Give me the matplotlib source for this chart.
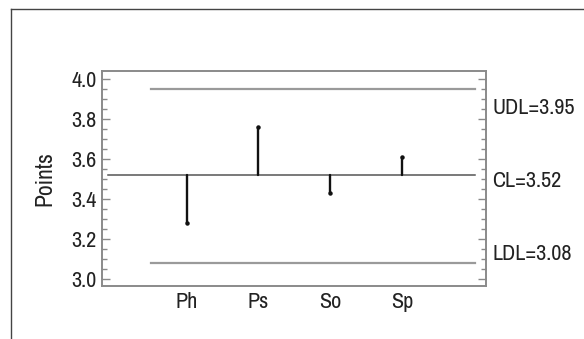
import matplotlib
matplotlib.use("Agg")
import matplotlib.pyplot as plt
from matplotlib.lines import Line2D
from matplotlib.ticker import MultipleLocator

groups = ["Ph", "Ps", "So", "Sp"]
means = [3.28, 3.76, 3.43, 3.61]
cl = 3.52
udl = 3.95
ldl = 3.08

plt.rcParams['font.family'] = ['Archivo Narrow', 'DejaVu Sans']
fs = 16

fig = plt.figure(figsize=(5.84, 3.39), dpi=100)
ax = fig.add_axes([0.1755, 0.155, 0.657, 0.636])

x = list(range(1, len(groups) + 1))

# decision limits and centre line
ax.plot([0.5, 5.02], [udl, udl], color='#9a9a9a', lw=1.6)
ax.plot([0.5, 5.02], [ldl, ldl], color='#9a9a9a', lw=1.6)
ax.plot([-0.09, 5.02], [cl, cl], color='#555555', lw=1.1)

# group means drawn from the centre line
for xi, m in zip(x, means):
    ax.plot([xi, xi], [cl, m], color='#111111', lw=1.7, solid_capstyle='round')
    ax.plot(xi, m, 'o', color='#111111', ms=2.2)

ax.set_xlim(-0.17, 5.17)
ax.set_ylim(2.964, 4.04)
ax.set_xticks(x)
ax.set_xticklabels(groups)
ax.yaxis.set_minor_locator(MultipleLocator(0.05))
ax.set_yticks([3.0, 3.2, 3.4, 3.6, 3.8, 4.0])
ax.set_yticklabels(["3.0", "3.2", "3.4", "3.6", "3.8", "4.0"])

ax.tick_params(axis='x', length=0, pad=4, labelsize=fs, colors='#222222')
ax.tick_params(axis='y', which='major', direction='in', length=6, width=1,
               left=True, right=True, color='#8a8a8a', pad=4, labelsize=fs,
               labelcolor='#222222')
ax.tick_params(axis='y', which='minor', direction='in', length=3.5, width=1,
               left=True, right=True, color='#8a8a8a')
for s in ax.spines.values():
    s.set_color('#8a8a8a')
    s.set_linewidth(1.4)

ax.set_ylabel('Points', fontsize=17, color='#222222', labelpad=12)

# limit labels on the right
ax.text(1.016, 3.855, 'UDL=3.95', transform=ax.get_yaxis_transform(),
        va='center', ha='left', fontsize=fs, color='#222222')
ax.text(1.016, 3.49, 'CL=3.52', transform=ax.get_yaxis_transform(),
        va='center', ha='left', fontsize=fs, color='#222222')
ax.text(1.016, 3.126, 'LDL=3.08', transform=ax.get_yaxis_transform(),
        va='center', ha='left', fontsize=fs, color='#222222')

# outer frame, only left and top edges visible
fig.add_artist(Line2D([11 / 584, 11 / 584], [0, 1 - 9 / 339],
                      transform=fig.transFigure, color='#444444', lw=1.0))
fig.add_artist(Line2D([11 / 584, 1], [1 - 9 / 339, 1 - 9 / 339],
                      transform=fig.transFigure, color='#444444', lw=1.0))

plt.savefig('out.png', dpi=100)
plt.close()
